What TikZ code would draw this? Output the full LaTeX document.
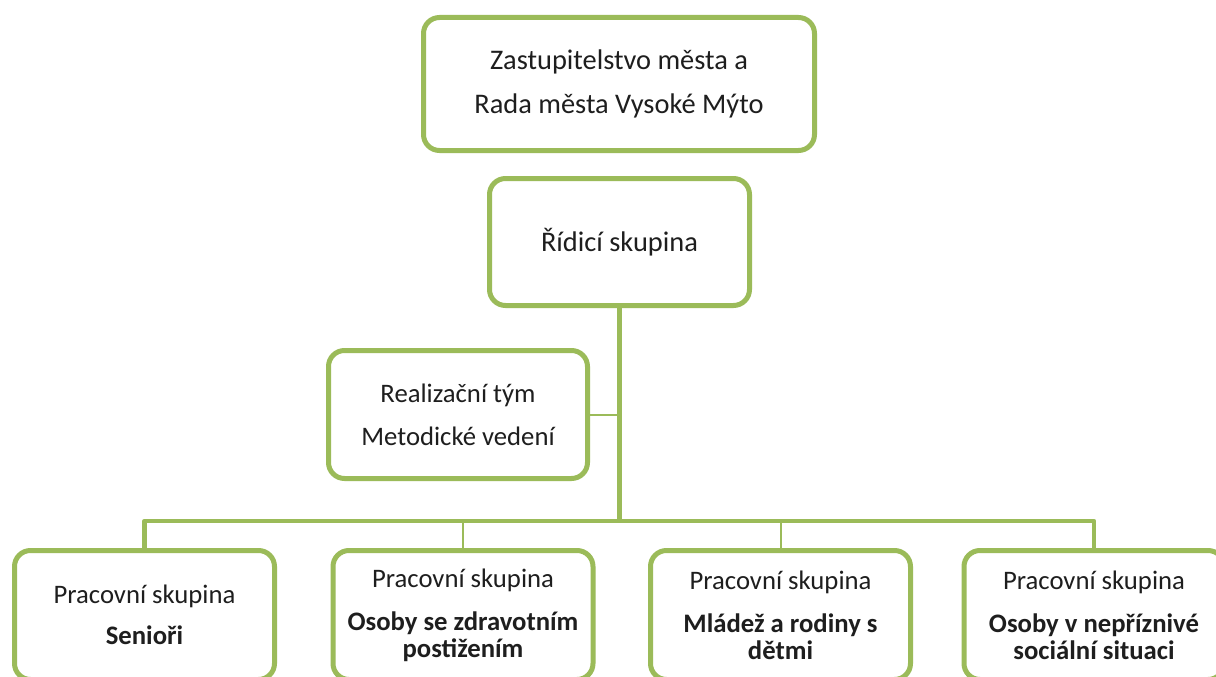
\documentclass[tikz,border=0pt]{standalone}
\usepackage{fontspec}
\setmainfont{Carlito}
\definecolor{olive}{HTML}{9BBB59}
\definecolor{txt}{HTML}{1E1E1E}
\tikzset{
  box/.style={draw=olive, line width=5pt, rounded corners=16pt, fill=white,
    align=center, text=txt, inner sep=0pt,
    font=\fontsize{26.7}{27}\selectfont},
  bigbox/.style={box, font=\fontsize{28.4}{30}\selectfont},
  thickline/.style={draw=olive, line width=4.5pt},
  thinline/.style={draw=olive, line width=2pt},
}
\begin{document}
\begin{tikzpicture}[x=1pt,y=-1pt]
\useasboundingbox (0,0) rectangle (1216,677);
\clip (0,0) rectangle (1216,677);
\fill[white] (0,0) rectangle (1216,677);

\node[bigbox, minimum width=391pt, minimum height=133pt] (top) at (619,84)
  {Zastupitelstvo města a\\[14pt]Rada města Vysoké Mýto};
\node[bigbox, minimum width=260pt, minimum height=127pt] (rid) at (619.5,242)
  {Řídicí skupina};
\node[box, minimum width=259pt, minimum height=128pt] (real) at (458,414.5)
  {Realizační tým\\[16pt]Metodické vedení};

\node[box, minimum width=260pt, minimum height=129pt] (b1) at (144.5,615)
  {Pracovní skupina\\[14pt]\textbf{Senioři}};
\node[box, minimum width=260pt, minimum height=129pt] (b2) at (463,615)
  {Pracovní skupina\\[16pt]\textbf{Osoby se zdravotním}\\\textbf{postižením}};
\node[box, minimum width=260pt, minimum height=129pt] (b3) at (780.5,615)
  {Pracovní skupina\\[16pt]\textbf{Mládež a rodiny s}\\\textbf{dětmi}};
\node[box, minimum width=260pt, minimum height=129pt] (b4) at (1094,615)
  {Pracovní skupina\\[16pt]\textbf{Osoby v nepříznivé}\\\textbf{sociální situaci}};

\coordinate (j) at (619,521);
\draw[thickline] (rid.south) -- (rid.south |- j);
\draw[thinline] (real.east) -- (real.east -| j);
\draw[thickline, line join=round] (b1.north) -- (b1.north |- j) -- (b4.north |- j) -- (b4.north);
\draw[thinline] (b2.north) -- (b2.north |- j);
\draw[thinline] (b3.north) -- (b3.north |- j);
\end{tikzpicture}
\end{document}
